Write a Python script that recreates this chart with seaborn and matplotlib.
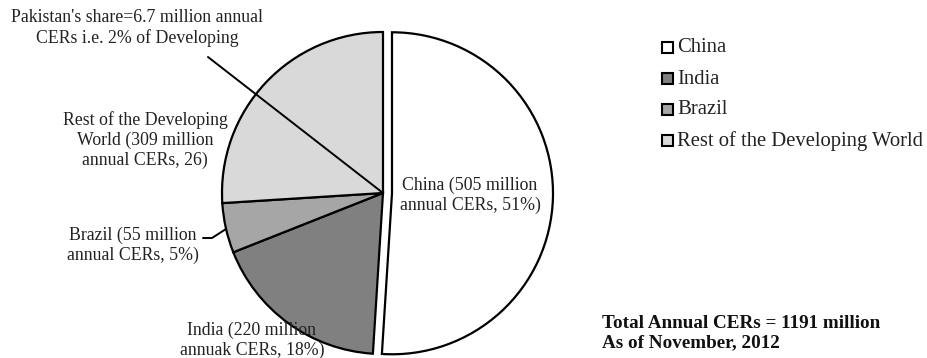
import matplotlib
matplotlib.use("Agg")
import matplotlib.pyplot as plt
import seaborn as sns
from matplotlib.patches import Rectangle

sns.set_theme(style="white")
plt.rcParams["font.family"] = ["Liberation Serif", "DejaVu Serif"]

categories = ["China", "India", "Brazil", "Rest of the Developing World"]
shares = [51, 18, 5, 26]
colors = ["#ffffff", "#808080", "#a6a6a6", "#d9d9d9"]
slice_labels = [
    "China (505 million\nannual CERs, 51%)",
    "India (220 million\nannuak CERs, 18%)",
    "Brazil (55 million\nannual CERs, 5%)",
    "Rest of the Developing\nWorld (309 million\nannual CERs, 26)",
]
note_text = "Pakistan's share=6.7 million annual\nCERs i.e. 2% of Developing"
total_lines = ["Total Annual CERs = 1191 million", "As of November, 2012"]

W, H = 928, 358
fig = plt.figure(figsize=(W / 100, H / 100), dpi=100)
ax = fig.add_axes([0, 0, 1, 1])

def Y(p):
    return H - p

cx, cy, r = 383, Y(193), 161
wedges, _ = ax.pie(
    shares, colors=colors, startangle=90, counterclock=False,
    center=(cx, cy), radius=r, explode=[9, 0, 0, 0],
    wedgeprops=dict(edgecolor="black", linewidth=1.6),
    frame=True,
)
ax.set_xlim(0, W)
ax.set_ylim(0, H)
ax.set_aspect("equal")
ax.axis("off")

fs = 12.8
tc = "#222222"
ls = 1.2
ax.text(470, Y(195), slice_labels[0], ha="center", va="center", fontsize=fs, color=tc, linespacing=ls)
ax.text(252, Y(340), slice_labels[1], ha="center", va="center", fontsize=fs, color=tc, linespacing=ls)
ax.text(133, Y(245), slice_labels[2], ha="center", va="center", fontsize=fs, color=tc, linespacing=ls)
ax.text(145, Y(140), slice_labels[3], ha="center", va="center", fontsize=fs, color=tc, linespacing=ls)
ax.text(137, Y(28), note_text, ha="center", va="center", fontsize=fs, color=tc, linespacing=ls)

# leader lines
ax.plot([203, 212, 226], [Y(238), Y(238), Y(229)], color="black", lw=1.4)
ax.plot([208, cx], [Y(57), cy], color="black", lw=1.4, zorder=5)

# legend
for i, (name, col) in enumerate(zip(categories, colors)):
    yy = 48 + i * 31
    ax.add_patch(Rectangle((662, Y(yy + 5)), 11, 11, facecolor=col, edgecolor="black", lw=1.5))
    ax.text(677, Y(yy), name, ha="left", va="center", fontsize=14.9, color=tc)

ax.text(602, Y(323), total_lines[0], ha="left", va="center", fontsize=13.8, fontweight="bold", color="#111111")
ax.text(602, Y(343), total_lines[1], ha="left", va="center", fontsize=13.8, fontweight="bold", color="#111111")

fig.savefig("out.png", dpi=100, facecolor="white")
